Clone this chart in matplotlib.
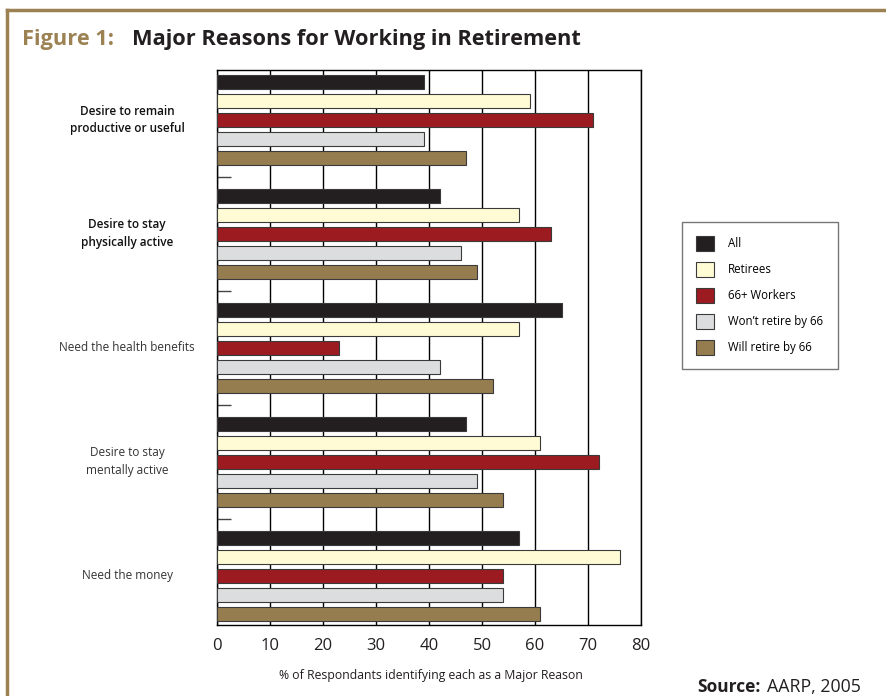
import numpy as np
import matplotlib.pyplot as plt
from matplotlib.patches import Patch
from matplotlib.lines import Line2D

# data
reasons = ['Desire to remain\nproductive or useful',
           'Desire to stay\nphysically active',
           'Need the health benefits',
           'Desire to stay\nmentally active',
           'Need the money']
series = ['All', 'Retirees', '66+ Workers', "Won\u2019t retire by 66", 'Will retire by 66']
all_resp   = [39, 42, 65, 47, 57]
retirees   = [59, 57, 57, 61, 76]
workers66  = [71, 63, 23, 72, 54]
wont_66    = [39, 46, 42, 49, 54]
will_66    = [47, 49, 52, 54, 61]
xticks = [0, 10, 20, 30, 40, 50, 60, 70, 80]

colors = ['#231f20', '#fffcd5', '#9b1b20', '#dcddde', '#967d4f']
gold = '#9c8153'

plt.rcParams['font.family'] = ['Open Sans', 'DejaVu Sans']

fig = plt.figure(figsize=(8.87, 6.96), dpi=100)
ax = fig.add_axes([217/887, 1-625/696, (641-217)/887, (625-70)/696])

values = [all_resp, retirees, workers66, wont_66, will_66]
for j, vals in enumerate(values):
    ypos = np.arange(len(reasons)) * 6 + j
    ax.barh(ypos, vals, height=0.74, color=colors[j], edgecolor='#3a3a3a',
            linewidth=0.8, zorder=3)

ax.set_xlim(0, 80)
ax.set_ylim(28.6, -0.62)
ax.set_xticks(xticks)
ax.set_xticklabels([str(t) for t in xticks], fontsize=12, color='#231f20')
ax.tick_params(axis='x', length=0, pad=9)
ax.grid(axis='x', color='black', linewidth=1.0, zorder=0)
ax.set_axisbelow(True)

# little dashes between groups
ax.set_yticks([5, 11, 17, 23])
ax.set_yticklabels([])
ax.tick_params(axis='y', direction='in', length=10, width=1, color='#444444')
for s in ax.spines.values():
    s.set_linewidth(1.0)
    s.set_color('black')

# group labels
for i, r in enumerate(reasons):
    bold = i < 2
    fig.text(127/887, ax.transData.transform((0, i * 6 + 2))[1] / 696, r,
             ha='center', va='center', fontsize=8.5, linespacing=1.45,
             fontweight='semibold' if bold else 'normal',
             color='#111111' if bold else '#333333')

fig.text(431/887, 1-675/696, '% of Respondants identifying each as a Major Reason',
         ha='center', va='center', fontsize=8.8, color='#231f20')

# title
fig.text(22/887, 1-40/696, 'Figure 1:', fontsize=15.7, fontweight='bold',
         color=gold, va='center', ha='left')
fig.text(132/887, 1-40/696, 'Major Reasons for Working in Retirement', fontsize=15.7,
         fontweight='bold', color='#231f20', va='center', ha='left')

fig.text(697/887, 1-687/696, 'Source:', fontsize=12.5, fontweight='bold',
         color='#231f20', va='center', ha='left')
fig.text(767/887, 1-687/696, 'AARP, 2005', fontsize=12.8,
         color='#231f20', va='center', ha='left')

# legend
handles = [Patch(facecolor=c, edgecolor='#3a3a3a', linewidth=0.8) for c in colors]
leg = fig.legend(handles, series, loc='upper left',
                 bbox_to_anchor=(682/887, 1-222/696), borderaxespad=0, fontsize=8.3,
                 handlelength=1.55, handleheight=1.55, handletextpad=1.2,
                 labelspacing=1.0, borderpad=1.25, frameon=True, fancybox=False)
leg.get_frame().set_edgecolor('#555555')
leg.get_frame().set_linewidth(1.0)

# page frame
fig.add_artist(Line2D([7/887, 1], [1-10/696, 1-10/696], color=gold, linewidth=2.5))
fig.add_artist(Line2D([7/887, 7/887], [0, 1-10/696], color=gold, linewidth=2.5))

fig.savefig('out.png', dpi=100)
